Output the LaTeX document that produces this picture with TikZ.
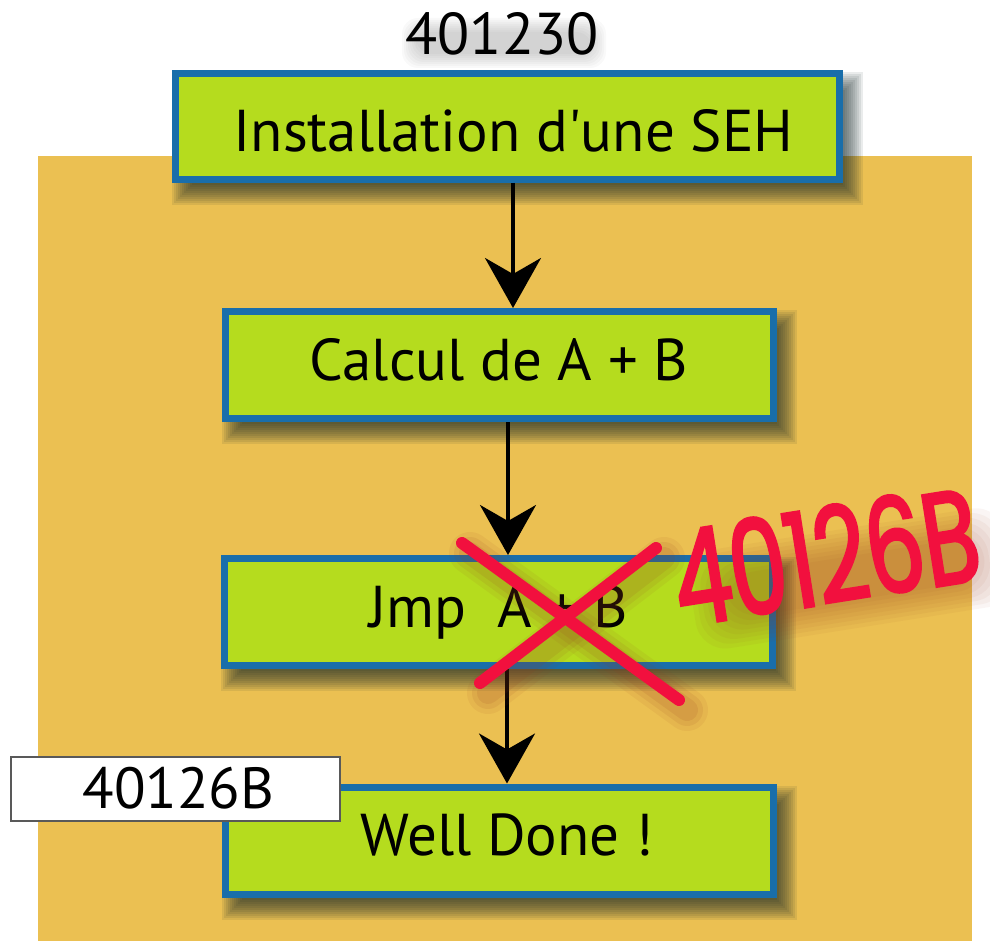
\documentclass[tikz,border=0pt]{standalone}
\usepackage{fontspec}
\setmainfont{PT Sans}
\newfontfamily\markerfont[FakeStretch=0.685, FakeBold=2.2]{Poppins}
\usetikzlibrary{arrows.meta}

\definecolor{bgorange}{RGB}{235,192,82}
\definecolor{boxgreen}{RGB}{181,220,30}
\definecolor{boxblue}{RGB}{25,110,170}
\definecolor{shadowc}{RGB}{20,40,40}
\definecolor{markred}{RGB}{242,16,62}
\definecolor{redshadow}{RGB}{150,60,30}

\pgfdeclarelayer{paper}
\pgfdeclarelayer{shade}
\pgfdeclarelayer{ink}
\pgfsetlayers{paper,shade,main,ink}

% soft drop shadow below and to the right of a node
\newcommand\boxshade[1]{%
  \foreach \k in {-10,-8,...,10}{%
    \fill[shadowc, fill opacity=0.09]
      ([shift={(10+\k,12+\k)}]#1.north west) rectangle
      ([shift={(10-\k,12-\k)}]#1.south east);}}

\begin{document}
\begin{tikzpicture}[x=1pt,y=-1pt,
  stepbox/.style={draw=boxblue, line width=7pt, fill=boxgreen, inner sep=0pt,
    minimum width=548pt, minimum height=107pt, text height=30pt, text depth=0pt,
    font=\fontsize{59}{64}\selectfont},
  flowarrow/.style={line width=3.5pt, -{Stealth[length=50pt,width=56pt,inset=16pt]}},
  redstroke/.style={markred, line width=12pt, line cap=round},
  redhalo/.style={redshadow, line cap=round, shift={(8,10)}},
  addrlabel/.style={inner sep=0pt, text depth=0pt}]

\useasboundingbox (0,0) rectangle (990,941);

% orange panel
\begin{pgfonlayer}{paper}
  \fill[bgorange] (38,156) rectangle (972,941);
\end{pgfonlayer}

% flow boxes
\node[stepbox, minimum width=664pt, minimum height=106pt, text height=50pt]
  (inst) at (507.5,126.5) {\hspace*{12pt}Installation d\textquotesingle une SEH};
\node[stepbox] (calc) at (499,365) {Calcul de A + B};
\node[stepbox] (jmp) at (498.5,612) {Jmp~~A + B};
\node[stepbox] (well) at (499,840.5) {\hspace*{16pt}Well Done !};

% addresses
\node[addrlabel, text height=40pt, font=\fontsize{59}{62}\selectfont]
  (addrtop) at (502,35) {401230};
\node[addrlabel, draw=black!65, line width=1.5pt, fill=white,
  minimum width=329pt, minimum height=64pt, text height=38pt,
  font=\fontsize{58}{62}\selectfont,
  path picture={\foreach \k in {0,...,7}{%
      \fill[black, fill opacity=0.025, rounded corners=14pt]
        (84+2*\k,772+2*\k) rectangle (286-2*\k,820-2*\k);}}]
  (addrwell) at (175.5,789) {\hspace*{6pt}40126B};

% connectors
\draw[flowarrow] ([xshift=5.5pt]inst.south) -- ([xshift=14pt]calc.north);
\draw[flowarrow] ([xshift=9pt]calc.south) -- ([xshift=9.5pt]jmp.north);
\draw[flowarrow] ([xshift=8.5pt]jmp.south) -- ([xshift=8pt]well.north);

% shadows
\begin{pgfonlayer}{shade}
  \boxshade{inst}
  \boxshade{calc}
  \boxshade{jmp}
  \boxshade{well}
  \foreach \k in {0,...,7}{%
    \fill[black, fill opacity=0.025, rounded corners=16pt]
      (402+2*\k,18+2*\k) rectangle (606-2*\k,68-2*\k);}
\end{pgfonlayer}

% hand-written correction: brown halo under the red ink
\foreach \w/\o in {42/0.07, 32/0.09, 22/0.11}{%
  \draw[redhalo, line width=\w pt, opacity=\o] (462,543) -- (679,700);
  \draw[redhalo, line width=\w pt, opacity=\o] (656,548) -- (480,683);}
\foreach \k in {0,...,7}{%
  \fill[redshadow, fill opacity=0.05, rounded corners=30pt,
    rotate around={9:(840,575)}]
    (690+5*\k,530+4*\k) rectangle (1010-5*\k,630-4*\k);}

\begin{pgfonlayer}{ink}
  \draw[redstroke] (462,543) -- (679,700);
  \draw[redstroke] (656,548) -- (480,683);
  \node[anchor=base west, rotate=9, inner sep=0pt, text=markred,
    font=\markerfont\fontsize{132}{136}\selectfont]
    (scrawl) at (681,627) {40126B};
\end{pgfonlayer}

\end{tikzpicture}
\end{document}
